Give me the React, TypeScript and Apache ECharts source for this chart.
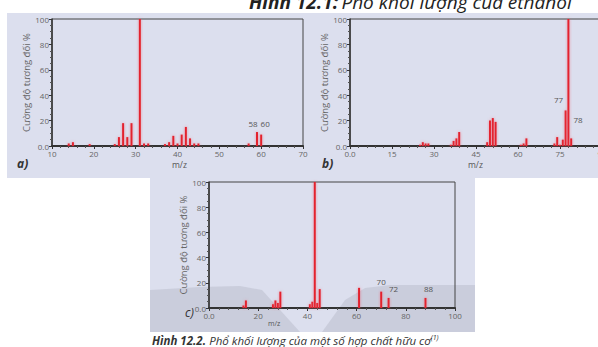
import React, { useEffect, useRef } from "react";
import * as echarts from "echarts";

// Spectrum a)
const aMz = [14, 15, 19, 25, 26, 27, 28, 29, 31, 32, 33, 37, 38, 39, 40, 41, 42, 43, 44, 45, 57, 59, 60];
const aInt = [2, 3, 1.5, 1.5, 7, 18, 7, 18, 100, 2, 2, 1.5, 3, 8, 2, 9, 15, 6, 2, 2, 2, 11, 9];
// Spectrum b)
const bMz = [25, 26, 27, 28, 36, 37, 38, 39, 49, 50, 51, 52, 61, 62, 63, 73, 74, 75, 76, 77, 78, 79];
const bInt = [1, 3, 2, 2, 1, 4, 6, 11, 3, 20, 22, 19, 1, 2, 6, 2, 7, 1, 5, 28, 100, 6];
// Spectrum c)
const cMz = [14, 15, 26, 27, 28, 29, 41, 42, 43, 44, 45, 61, 70, 73, 88];
const cInt = [2, 6, 3, 6, 4, 13, 3, 5, 100, 4, 15, 16, 13, 8, 8];

const yTicks = ["0.0", "20", "40", "60", "80", "100"];
const yAxisTitle = "Cường độ tương đối %";
const xAxisTitle = "m/z";

const RED = "#e3232d";
const FONT = "'Open Sans', 'Noto Sans', sans-serif";

export default function App() {
  const ref = useRef<HTMLDivElement>(null);
  useEffect(() => {
    document.body.style.margin = "0";
    if (!ref.current) return;
    const chart = echarts.init(ref.current, null, { renderer: "svg" });

    const lbl = (text: string, extra: any) => ({
      show: true,
      formatter: text,
      color: "#555",
      fontSize: 8,
      fontFamily: FONT,
      ...extra,
    });

    const mk = (mz: number[], it: number[], labels: Record<number, any>) =>
      mz.map((m, i) => {
        const item: any = { value: [m, it[i]] };
        if (labels[m]) item.label = labels[m];
        return item;
      });

    const yAxis = (gi: number) => ({
      type: "value",
      gridIndex: gi,
      min: 0,
      max: 100,
      interval: 20,
      name: yAxisTitle,
      nameLocation: "middle",
      nameRotate: 90,
      nameGap: 16,
      nameTextStyle: { color: "#666", fontSize: 9.5, fontFamily: FONT },
      axisLine: { show: true, lineStyle: { color: "#333", width: 1.5 } },
      axisTick: { show: true, length: 3, inside: false, lineStyle: { color: "#333" } },
      minorTick: { show: true, splitNumber: 4, length: 2, lineStyle: { color: "#555" } },
      axisLabel: {
        color: "#666",
        fontSize: 8,
        fontFamily: FONT,
        margin: 3,
        formatter: (v: number) => yTicks[Math.round(v / 20)],
      },
      splitLine: { show: false },
    });

    const xAxis = (gi: number, min: number, max: number, interval: number) => ({
      type: "value",
      gridIndex: gi,
      min,
      max,
      interval,
      axisLine: { show: true, onZero: false, lineStyle: { color: "#333", width: 2 } },
      axisTick: { show: true, length: 3, lineStyle: { color: "#333" } },
      minorTick: { show: true, splitNumber: 5, length: 2, lineStyle: { color: "#555" } },
      axisLabel: {
        color: "#666",
        fontSize: 8,
        fontFamily: FONT,
        margin: 3,
        formatter: (v: number) => (v === 0 ? "0.0" : String(v)),
      },
      splitLine: { show: false },
    });

    const bar = (gi: number, data: any[]) => ({
      type: "bar",
      xAxisIndex: gi,
      yAxisIndex: gi,
      barWidth: 2,
      data,
      itemStyle: { color: RED, shadowColor: "rgba(240,90,110,0.6)", shadowBlur: 3 },
    });

    const txt = (x: number, y: number, text: string, style: any = {}) => ({
      type: "text",
      x,
      y,
      z: 100,
      style: { text, fill: "#555", font: `9px ${FONT}`, ...style },
    });

    const option: any = {
      animation: false,
      backgroundColor: "#ffffff",
      grid: [
        { left: 52, top: 19, width: 251, height: 127, show: true, borderColor: "#444", borderWidth: 1, backgroundColor: "transparent" },
        { left: 350, top: 19, width: 252, height: 127, show: true, borderColor: "#444", borderWidth: 1, backgroundColor: "transparent" },
        { left: 209, top: 182, width: 246, height: 126, show: true, borderColor: "#444", borderWidth: 1, backgroundColor: "transparent" },
      ],
      xAxis: [xAxis(0, 10, 70, 10), xAxis(1, 0, 90, 15), xAxis(2, 0, 100, 20)],
      yAxis: [yAxis(0), yAxis(1), yAxis(2)],
      series: [
        bar(
          0,
          mk(aMz, aInt, {
            59: lbl("58", { position: "top", offset: [-4, 0] }),
            60: lbl("60", { position: "top", offset: [4, -2] }),
          })
        ),
        bar(
          1,
          mk(bMz, bInt, {
            77: lbl("77", { position: "top", offset: [-7, -2] }),
            78: lbl("78", { position: ["100%", "76%"], offset: [4, 0] }),
          })
        ),
        bar(
          2,
          mk(cMz, cInt, {
            70: lbl("70", { position: "top", offset: [0, -1] }),
            73: lbl("72", { position: "top", offset: [5, 0] }),
            88: lbl("88", { position: "top", offset: [3, 0] }),
          })
        ),
      ],
      graphic: [
        { type: "rect", z: -10, shape: { x: 7, y: 13, width: 620, height: 165 }, style: { fill: "#dcdfee" } },
        { type: "rect", z: -10, shape: { x: 150, y: 170, width: 325, height: 162 }, style: { fill: "#dcdfee" } },
        {
          type: "polygon",
          z: -9,
          shape: { points: [[150, 290], [200, 287], [240, 286], [262, 290], [300, 332], [150, 332]] },
          style: { fill: "rgba(170,172,185,0.35)" },
        },
        {
          type: "polygon",
          z: -9,
          shape: { points: [[322, 332], [345, 300], [365, 288], [390, 285], [475, 285], [475, 332]] },
          style: { fill: "rgba(170,172,185,0.35)" },
        },
        txt(172, 160, xAxisTitle, { font: `8.5px ${FONT}` }),
        txt(468, 160, xAxisTitle, { font: `8.5px ${FONT}` }),
        txt(268, 320, xAxisTitle, { font: `7px ${FONT}` }),
        txt(17, 157, "a)", { font: `italic bold 12px ${FONT}`, fill: "#333" }),
        txt(322, 157, "b)", { font: `italic bold 12px ${FONT}`, fill: "#333" }),
        txt(185, 306, "c)", { font: `italic 12px ${FONT}`, fill: "#333" }),
        {
          type: "text",
          x: 249,
          y: -8,
          z: 100,
          style: {
            text: "{b|Hình 12.1:} {i|Phổ khối lượng của ethanol}",
            rich: {
              b: { font: `italic bold 19px ${FONT}`, fill: "#222" },
              i: { font: `italic 19px ${FONT}`, fill: "#222" },
            },
          },
        },
        {
          type: "text",
          x: 152,
          y: 334,
          z: 100,
          style: {
            text: "{b|Hình 12.2.} {i|Phổ khối lượng của một số hợp chất hữu cơ}{s|(1)}",
            rich: {
              b: { font: `italic bold 11.5px ${FONT}`, fill: "#333" },
              i: { font: `italic 11.5px ${FONT}`, fill: "#333" },
              s: { font: `italic 7px ${FONT}`, fill: "#333", verticalAlign: "top", padding: [0, 0, 5, 0] },
            },
          },
        },
      ],
    };
    chart.setOption(option);
    return () => chart.dispose();
  }, []);
  return (
    <div style={{ width: 598, height: 347, overflow: "hidden", position: "relative" }}>
      <div ref={ref} style={{ width: 620, height: 347 }} />
    </div>
  );
}
